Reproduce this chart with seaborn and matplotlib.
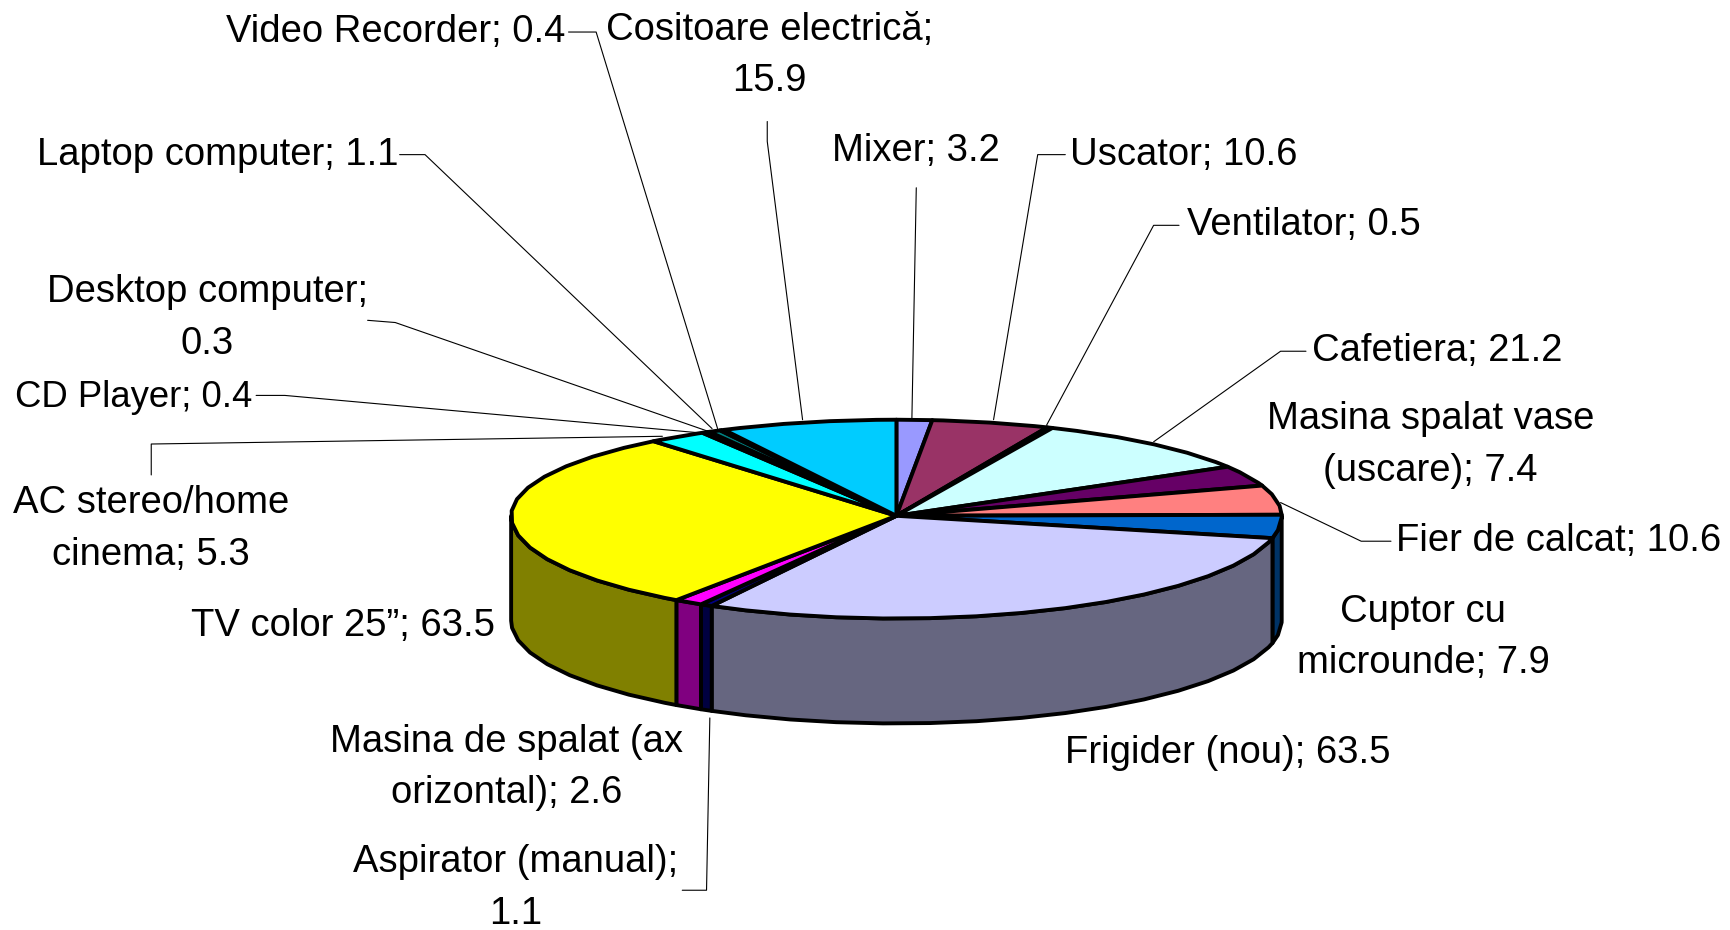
import numpy as np
import matplotlib
matplotlib.use("Agg")
import matplotlib.pyplot as plt
import seaborn as sns

# slices clockwise from 12 o'clock
names = ["Mixer", "Uscator", "Ventilator", "Cafetiera", "Masina spalat vase", "Fier de calcat",
         "Cuptor cu microunde", "Frigider (nou)", "Aspirator (manual)", "Masina de spalat (ax orizontal)",
         "TV color 25”", "AC stereo/home cinema", "CD Player", "Desktop computer",
         "Laptop computer", "Video Recorder", "Cositoare electrică"]
values = [3.2, 10.6, 0.5, 21.2, 7.4, 10.6, 7.9, 63.5, 1.1, 2.6, 63.5, 5.3, 0.4, 0.3, 1.1, 0.4, 15.9]
top_colors = ["#9999FF", "#993366", "#FFFFCC", "#CCFFFF", "#660066", "#FF8080", "#0066CC", "#CCCCFF",
              "#000080", "#FF00FF", "#FFFF00", "#00FFFF", "#800080", "#800000", "#008080", "#0000FF",
              "#00CCFF"]

# text, centre x, centre y (in the 1568x842 view)
labels = [
    ("Video Recorder; 0.4", 358, 29),
    ("Cositoare electrică;\n15.9", 697, 50),
    ("Mixer; 3.2", 830, 137),
    ("Uscator; 10.6", 1072, 140),
    ("Ventilator; 0.5", 1181, 204),
    ("Cafetiera; 21.2", 1302, 318),
    ("Masina spalat vase\n(uscare); 7.4", 1296, 403),
    ("Fier de calcat; 10.6", 1412, 490),
    ("Cuptor cu\nmicrounde; 7.9", 1289, 577),
    ("Frigider (nou); 63.5", 1112, 682),
    ("Aspirator (manual);\n1.1", 467, 804),
    ("Masina de spalat (ax\norizontal); 2.6", 459, 695),
    ("TV color 25”; 63.5", 311, 567),
    ("AC stereo/home\ncinema; 5.3", 137, 479),
    ("CD Player; 0.4", 121, 360),
    ("Desktop computer;\n0.3", 188, 288),
    ("Laptop computer; 1.1", 197, 140),
]
leaders = [
    [(515, 29), (540, 29), (650, 388)],
    [(695, 110), (695, 128), (727, 380)],
    [(830, 170), (826, 380)],
    [(965, 140), (940, 140), (900, 380)],
    [(1068, 204), (1045, 204), (948, 385)],
    [(1183, 318), (1160, 318), (1045, 400)],
    [(1260, 490), (1233, 490), (1160, 455)],
    [(618, 806), (640, 806), (643, 650)],
    [(232, 358), (258, 358), (635, 392)],
    [(333, 290), (358, 292), (640, 390)],
    [(362, 140), (385, 140), (645, 388)],
    [(137, 430), (137, 402), (600, 395)],
]

CX, CY = 812, 467   # centre of the top ellipse
RX = 349
RY_BACK, RY_FRONT = 87, 93
DEPTH = 95
EDGE = 2.8


def rim(t):
    t = np.radians(t)
    c = np.cos(t)
    return CX + RX * np.sin(t), CY - np.where(c > 0, RY_BACK, RY_FRONT) * c


def arc(a, b, step=7.0):
    # coarse steps give the faceted rim of the original
    return np.r_[a, np.arange(np.floor(a / step) * step + step, b, step), b]


sns.set_theme(style="white")
plt.rcParams["font.family"] = ["Liberation Sans", "DejaVu Sans"]

fig, ax = plt.subplots(figsize=(17.31, 9.30), dpi=100)
fig.subplots_adjust(0, 0, 1, 1)
ax.set_xlim(0, 1568)
ax.set_ylim(842, 0)
ax.axis("off")

edges = np.r_[0, np.cumsum(values)] / np.sum(values) * 360
palette = sns.color_palette(top_colors)

for i, col in enumerate(palette):
    # front wall, only the part between 90 and 270 degrees can be seen
    a, b = max(edges[i], 90), min(edges[i + 1], 270)
    if a < b:
        x, y = rim(arc(a, b))
        side = tuple(c * 0.5 for c in col)
        ax.fill(np.r_[x, x[::-1]], np.r_[y, y[::-1] + DEPTH], facecolor=side,
                edgecolor="black", lw=EDGE, joinstyle="round", zorder=2)

for i, col in enumerate(palette):
    x, y = rim(arc(edges[i], edges[i + 1]))
    ax.fill(np.r_[CX, x], np.r_[CY, y], facecolor=col, edgecolor="black",
            lw=EDGE, joinstyle="round", zorder=3)

for line in leaders:
    xs, ys = zip(*line)
    ax.plot(xs, ys, color="black", lw=0.8, zorder=1)

for text, x, y in labels:
    # the CD Player label runs tighter in the original
    size = 26.3 if text.startswith("CD") else 27.5
    ax.text(x, y, text, ha="center", va="center", fontsize=size, color="black",
            linespacing=1.55, zorder=4)

fig.savefig("out.png", dpi=100, facecolor="white")
